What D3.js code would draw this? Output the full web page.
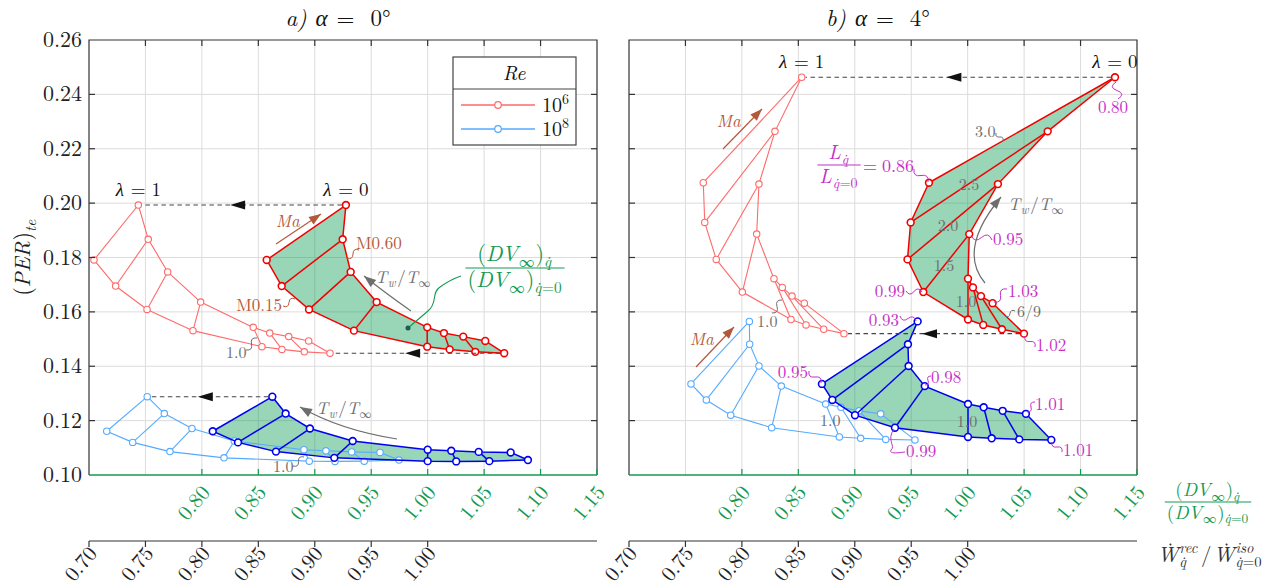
<!DOCTYPE html>
<html><head><meta charset="utf-8">
<script src="https://cdn.jsdelivr.net/npm/d3@7"></script>
<style>
body{margin:0;background:#fff;}
svg text{white-space:pre;}
</style></head><body>
<svg id="chart" width="1270" height="581"></svg>
<script>
// ---- axis ticks ----
const yTicks = [0.10,0.12,0.14,0.16,0.18,0.20,0.22,0.24,0.26];
const dvTicks = [0.80,0.85,0.90,0.95,1.00,1.05,1.10,1.15];
const wTicks = [0.70,0.75,0.80,0.85,0.90,0.95,1.00];
const gridX = [0.75,0.80,0.85,0.90,0.95,1.00,1.05,1.10];

// ---- mesh data: chains at Ma 0.60 (hi) and Ma 0.15 (lo), Tw/Tinf = 3.0 ... 6/9 ----
// panel a) alpha = 0 deg, Re = 1e6
const a_re6_per_hi  = [0.1993,0.1867,0.1747,0.1636,0.1543,0.1522,0.1509,0.1493];
const a_re6_per_lo  = [0.1791,0.1695,0.1609,0.1531,0.1472,0.1462,0.1453,0.1448];
const a_re6_lam1_hi = [0.7437,0.7525,0.7697,0.7989,0.8455,0.8601,0.8769,0.8946];
const a_re6_lam1_lo = [0.7044,0.7236,0.7514,0.7921,0.8532,0.8709,0.8907,0.9135];
const a_re6_lam0_hi = [0.9276,0.9247,0.9318,0.9548,0.9996,1.0144,1.0315,1.0510];
const a_re6_lam0_lo = [0.8574,0.8707,0.8949,0.9347,0.9996,1.0195,1.0422,1.0678];
// panel a) alpha = 0 deg, Re = 1e8
const a_re8_per_hi  = [0.1288,0.1226,0.1171,0.1125,0.1093,0.1089,0.1085,0.1083];
const a_re8_per_lo  = [0.1161,0.1120,0.1086,0.1063,0.1051,0.1050,0.1051,0.1055];
const a_re8_lam1_hi = [0.7516,0.7667,0.7912,0.8287,0.8904,0.9099,0.9327,0.9578];
const a_re8_lam1_lo = [0.7157,0.7387,0.7717,0.8196,0.8951,0.9179,0.9438,0.9746];
const a_re8_lam0_hi = [0.8624,0.8742,0.8957,0.9336,1.0000,1.0209,1.0452,1.0735];
const a_re8_lam0_lo = [0.8096,0.8320,0.8656,0.9173,1.0000,1.0253,1.0546,1.0888];
// panel b) alpha = 4 deg, Re = 1e6
const b_re6_per_hi  = [0.2463,0.2264,0.2070,0.1886,0.1722,0.1690,0.1658,0.1632];
const b_re6_per_lo  = [0.2075,0.1929,0.1793,0.1673,0.1572,0.1552,0.1536,0.1520];
const b_re6_lam1_hi = [0.8530,0.8293,0.8151,0.8131,0.8284,0.8358,0.8444,0.8553];
const b_re6_lam1_lo = [0.7658,0.7671,0.7773,0.8004,0.8435,0.8568,0.8725,0.8904];
const b_re6_lam0_hi = [1.1305,1.0709,1.0268,1.0014,1.0003,1.0047,1.0118,1.0221];
const b_re6_lam0_lo = [0.9657,0.9495,0.9467,0.9607,1.0003,1.0138,1.0304,1.0499];
// panel b) alpha = 4 deg, Re = 1e8
const b_re8_per_hi  = [0.1565,0.1481,0.1401,0.1327,0.1261,0.1249,0.1236,0.1225];
const b_re8_per_lo  = [0.1335,0.1276,0.1220,0.1174,0.1140,0.1135,0.1131,0.1129];
const b_re8_lam1_hi = [0.8066,0.8069,0.8151,0.8349,0.8742,0.8878,0.9037,0.9229];
const b_re8_lam1_lo = [0.7549,0.7685,0.7901,0.8264,0.8863,0.9052,0.9274,0.9533];
const b_re8_lam0_hi = [0.9557,0.9471,0.9477,0.9620,1.0003,1.0142,1.0310,1.0516];
const b_re8_lam0_lo = [0.8709,0.8801,0.9002,0.9356,1.0003,1.0213,1.0457,1.0741];

// ---- styles ----
const C = {
  re6l1:'#ff6a6a', re6l0:'#f20000', re8l1:'#55aaff', re8l0:'#0000f0',
  fill:'rgba(0,150,75,0.40)', green:'#139a52', mag:'#c630c6', brown:'#b4583a',
  gray:'#6e6e6e', grid:'#dcdcdc', dash:'#444'
};
const FS = 21;            // tick labels
const FA = 17;            // annotations
const FONT = 'Latin Modern Roman, Liberation Serif, serif';

const svg = d3.select('#chart');
const y = d3.scaleLinear().domain([0.10,0.26]).range([475,40]);
const yTop = 40, yBot = 475, wAxisY = 541;

const zip = (xs, ys) => xs.map((v,i)=>[v, ys[i]]);

const panels = [
  {x0:89, x1:597, title:'a)', alpha:'0', meshes:[
    {hi:zip(a_re8_lam1_hi,a_re8_per_hi), lo:zip(a_re8_lam1_lo,a_re8_per_lo), c:C.re8l1, lam:1},
    {hi:zip(a_re6_lam1_hi,a_re6_per_hi), lo:zip(a_re6_lam1_lo,a_re6_per_lo), c:C.re6l1, lam:1},
    {hi:zip(a_re8_lam0_hi,a_re8_per_hi), lo:zip(a_re8_lam0_lo,a_re8_per_lo), c:C.re8l0, lam:0},
    {hi:zip(a_re6_lam0_hi,a_re6_per_hi), lo:zip(a_re6_lam0_lo,a_re6_per_lo), c:C.re6l0, lam:0}
  ], arrows:[['re6','hi'],['re6','lo'],['re8','hi']]},
  {x0:629, x1:1137, title:'b)', alpha:'4', meshes:[
    {hi:zip(b_re8_lam1_hi,b_re8_per_hi), lo:zip(b_re8_lam1_lo,b_re8_per_lo), c:C.re8l1, lam:1},
    {hi:zip(b_re6_lam1_hi,b_re6_per_hi), lo:zip(b_re6_lam1_lo,b_re6_per_lo), c:C.re6l1, lam:1},
    {hi:zip(b_re8_lam0_hi,b_re8_per_hi), lo:zip(b_re8_lam0_lo,b_re8_per_lo), c:C.re8l0, lam:0},
    {hi:zip(b_re6_lam0_hi,b_re6_per_hi), lo:zip(b_re6_lam0_lo,b_re6_per_lo), c:C.re6l0, lam:0}
  ], arrows:[['re6','hi'],['re6','lo']]}
];

// ---- small math-text layout helpers ----
const I = t => ({t, i:true});
function txt(parent) {
  return parent.append('text').attr('font-family', FONT);
}
function mrow(parent, x, yy, items, size, color) {
  const g = parent.append('g');
  let cx = x;
  items.forEach(it => {
    if (typeof it === 'string') it = {t:it};
    if (it.sp) { cx += it.sp; return; }
    if (it.sub || it.sup) {
      let w = 0;
      if (it.sup) w = Math.max(w, mrow(g, cx, yy - size*0.42, it.sup, size*0.7, color).w);
      if (it.sub) w = Math.max(w, mrow(g, cx, yy + size*0.25, it.sub, size*0.7, color).w);
      cx += w + 1;
    } else {
      const t = txt(g).attr('x', cx).attr('y', yy).attr('font-size', size)
        .attr('fill', color).style('font-style', it.i ? 'italic' : 'normal').text(it.t);
      const w = t.node().getComputedTextLength();
      if (it.dot) g.append('circle').attr('cx', cx + w*0.62).attr('cy', yy - size*0.83)
        .attr('r', size*0.05).attr('fill', color);
      cx += w + (it.i ? size*0.04 : 0);
    }
  });
  return {g, w: cx - x};
}
function mrowC(parent, cx, yy, items, size, color) {
  const r = mrow(parent, 0, yy, items, size, color);
  r.g.attr('transform', `translate(${cx - r.w/2},0)`);
  return r;
}
function mrowR(parent, rx, yy, items, size, color) {
  const r = mrow(parent, 0, yy, items, size, color);
  r.g.attr('transform', `translate(${rx - r.w},0)`);
  return r;
}
function mfrac(parent, cx, barY, num, den, size, color) {
  const g = parent.append('g');
  const n = mrow(g, 0, barY - size*0.3, num, size, color);
  const d = mrow(g, 0, barY + size*0.88, den, size, color);
  const w = Math.max(n.w, d.w) + 4;
  n.g.attr('transform', `translate(${cx - n.w/2},0)`);
  d.g.attr('transform', `translate(${cx - d.w/2},0)`);
  g.append('line').attr('x1', cx - w/2).attr('x2', cx + w/2).attr('y1', barY).attr('y2', barY)
    .attr('stroke', color).attr('stroke-width', 1.2);
  return {g, w};
}
function squiggle(g, x0, y0, x1, y1, color, amp = 0.35) {
  const mx = (x0+x1)/2, my = (y0+y1)/2, dx = x1-x0, dy = y1-y0, L = Math.hypot(dx,dy);
  const nx = -dy/L, ny = dx/L, a = L*amp;
  g.append('path').attr('d', `M${x0},${y0} Q${(x0+mx)/2+nx*a},${(y0+my)/2+ny*a} ${mx},${my} T${x1},${y1}`)
    .attr('fill','none').attr('stroke', color).attr('stroke-width', 1);
}
function head(g, x, yy, ang, color, len = 12, wid = 4.5) {
  const c = Math.cos(ang), s = Math.sin(ang);
  const bx = x - c*len, by = yy - s*len;
  g.append('path').attr('d', `M${x},${yy} L${bx - s*wid},${by + c*wid} L${bx + s*wid},${by - c*wid} Z`)
    .attr('fill', color);
}
function straightArrow(g, x0, y0, x1, y1, color) {
  g.append('line').attr('x1',x0).attr('y1',y0).attr('x2',x1).attr('y2',y1)
    .attr('stroke',color).attr('stroke-width',1.2);
  head(g, x1, y1, Math.atan2(y1-y0, x1-x0), color, 12, 4.5);
}
function curvedArrow(g, x0, y0, cx, cy, x1, y1, color) {
  g.append('path').attr('d', `M${x0},${y0} Q${cx},${cy} ${x1},${y1}`)
    .attr('fill','none').attr('stroke',color).attr('stroke-width',1.2);
  head(g, x1, y1, Math.atan2(y1-cy, x1-cx), color, 12, 4.5);
}

const TwT = [I('T'), {sub:[I('w')]}, '/', I('T'), {sub:['∞']}];
const qd = 'q\u0307';
const lam = v => [I('λ'), {sp:6}, '=', {sp:6}, v];

// ---- panels ----
panels.forEach(p => {
  const x = d3.scaleLinear().domain([0.70,1.15]).range([p.x0, p.x1]);
  p.x = x;
  const g = svg.append('g');

  // grid
  g.selectAll('.gx').data(gridX).join('line')
    .attr('x1', d=>x(d)).attr('x2', d=>x(d)).attr('y1', yTop).attr('y2', yBot)
    .attr('stroke', C.grid).attr('stroke-width', 1);
  g.selectAll('.gy').data(yTicks.slice(1,-1)).join('line')
    .attr('x1', p.x0).attr('x2', p.x1).attr('y1', d=>y(d)).attr('y2', d=>y(d))
    .attr('stroke', C.grid).attr('stroke-width', 1);

  // shaded region of the lambda = 0 meshes
  p.meshes.filter(m => m.lam === 0).forEach(m => {
    const poly = m.hi.concat(m.lo.slice().reverse());
    g.append('path').attr('d', d3.line().x(d=>x(d[0])).y(d=>y(d[1]))(poly) + 'Z')
      .attr('fill', C.fill).attr('stroke', 'none');
  });

  const line = d3.line().x(d=>x(d[0])).y(d=>y(d[1]));
  p.meshes.forEach(m => {
    const sw = m.lam === 0 ? 1.5 : 1.1;
    const mg = g.append('g');
    [m.hi, m.lo].forEach(ch => mg.append('path').attr('d', line(ch))
      .attr('fill','none').attr('stroke', m.c).attr('stroke-width', sw));
    mg.selectAll('.cross').data(d3.range(m.hi.length)).join('line')
      .attr('x1', i=>x(m.hi[i][0])).attr('y1', i=>y(m.hi[i][1]))
      .attr('x2', i=>x(m.lo[i][0])).attr('y2', i=>y(m.lo[i][1]))
      .attr('stroke', m.c).attr('stroke-width', sw);
    mg.selectAll('circle').data(m.hi.concat(m.lo)).join('circle')
      .attr('cx', d=>x(d[0])).attr('cy', d=>y(d[1])).attr('r', m.lam === 0 ? 3.4 : 3.2)
      .attr('fill', '#fff').attr('stroke', m.c).attr('stroke-width', m.lam === 0 ? 1.6 : 1.1);
  });

  // dashed lambda 0 -> 1 arrows
  const byRe = {re6:[p.meshes[3], p.meshes[1]], re8:[p.meshes[2], p.meshes[0]]};
  p.arrows.forEach(([re, side]) => {
    const [m0, m1] = byRe[re];
    const pt0 = side === 'hi' ? m0.hi[0] : m0.lo[m0.lo.length-1];
    const pt1 = side === 'hi' ? m1.hi[0] : m1.lo[m1.lo.length-1];
    const xa = x(pt0[0]) - 4, xb = x(pt1[0]) + 4, yy = y(pt0[1]);
    g.append('line').attr('x1', xa).attr('x2', xb).attr('y1', yy).attr('y2', yy)
      .attr('stroke', C.dash).attr('stroke-width', 1.1).attr('stroke-dasharray', '4.5,3.5');
    const tip = (xa + xb)/2 - 12;
    g.append('path').attr('d', `M${tip},${yy} L${tip+15},${yy-4.5} L${tip+15},${yy+4.5} Z`).attr('fill', '#111');
  });

  // frame
  const ax = svg.append('g').attr('stroke-width', 1.2);
  ax.append('path').attr('d', `M${p.x0},${yBot} V${yTop} H${p.x1} V${yBot}`)
    .attr('fill','none').attr('stroke','#333');
  ax.append('line').attr('x1', p.x0).attr('x2', p.x1).attr('y1', yBot).attr('y2', yBot)
    .attr('stroke', C.green).attr('stroke-width', 1.4);
  // inward ticks
  yTicks.slice(1,-1).forEach(v => {
    ax.append('line').attr('x1', p.x0).attr('x2', p.x0+6).attr('y1', y(v)).attr('y2', y(v)).attr('stroke','#333');
    ax.append('line').attr('x1', p.x1).attr('x2', p.x1-6).attr('y1', y(v)).attr('y2', y(v)).attr('stroke','#333');
  });
  gridX.forEach(v => ax.append('line').attr('x1', x(v)).attr('x2', x(v)).attr('y1', yTop).attr('y2', yTop+6).attr('stroke','#333'));
  dvTicks.forEach(v => ax.append('line').attr('x1', x(v)).attr('x2', x(v)).attr('y1', yBot).attr('y2', yBot-6).attr('stroke', C.green));

  // green DV axis labels
  dvTicks.forEach(v => {
    const tx = x(v) + 9, ty = yBot + 18;
    txt(ax).attr('x', tx).attr('y', ty).attr('transform', `rotate(-50,${tx},${ty})`)
      .attr('text-anchor','end').attr('font-size', FS).attr('fill', C.green).text(v.toFixed(2));
  });
  // black W axis
  ax.append('line').attr('x1', p.x0).attr('x2', p.x1).attr('y1', wAxisY).attr('y2', wAxisY).attr('stroke','#333');
  wTicks.forEach(v => {
    ax.append('line').attr('x1', x(v)).attr('x2', x(v)).attr('y1', wAxisY).attr('y2', wAxisY+6).attr('stroke','#333');
    const tx = x(v) + 9, ty = wAxisY + 13;
    txt(ax).attr('x', tx).attr('y', ty).attr('transform', `rotate(-50,${tx},${ty})`)
      .attr('text-anchor','end').attr('font-size', FS).attr('fill', '#222').text(v.toFixed(2));
  });

  // title
  mrowC(svg, (p.x0+p.x1)/2 - 5, 26, [I(p.title), {sp:8}, I('α'), {sp:8}, '=', {sp:16}, p.alpha + '°'], 23, '#111');
});

// y axis labels (left panel)
const L = panels[0];
yTicks.forEach(v => txt(svg).attr('x', L.x0 - 7).attr('y', y(v) + 7)
  .attr('text-anchor','end').attr('font-size', FS + 1).attr('fill','#222').text(v.toFixed(2)));
{
  const gl = svg.append('g').attr('transform', 'translate(30,257) rotate(-90)');
  mrowC(gl, 0, 0, ['(', I('PER'), ')', {sub:[I('te')]}], 22, '#222');
}

// ---- annotations, panel a ----
const A = svg.append('g');
{
  const x = L.x;
  const t1 = [a_re6_lam1_hi[0], a_re6_per_hi[0]], t0 = [a_re6_lam0_hi[0], a_re6_per_hi[0]];
  mrowC(A, x(t1[0]), y(t1[1]) - 9, lam('1'), 19, '#111');
  mrowC(A, x(t0[0]), y(t0[1]) - 9, lam('0'), 19, '#111');
  straightArrow(A, 276, 244, 321, 214, C.brown);
  mrowC(A, 288, 227, [I('Ma')], FA, C.brown);
  mrow(A, 356, 249, ['M0.60'], FA, C.brown);
  squiggle(A, 359, 250, 347, 258, C.brown);
  mrowR(A, 282, 311, ['M0.15'], FA, C.brown);
  squiggle(A, 283, 306, 295, 299, C.brown);
  curvedArrow(A, 411, 311, 384, 292, 364, 276, C.gray);
  mrow(A, 375, 283, TwT, FA, C.gray);
  // DV annotation
  A.append('path').attr('d', 'M408,328 L428,311 C438,303 431,293 440,287 C447,282 452,279 461,276')
    .attr('fill','none').attr('stroke', C.green).attr('stroke-width', 1.1);
  A.append('circle').attr('cx', 408).attr('cy', 328).attr('r', 2.5).attr('fill', '#1d5e4c');
  mfrac(A, 515, 268, ['(', I('DV'), {sub:['∞']}, ')', {sub:[I(qd)]}],
        ['(', I('DV'), {sub:['∞']}, ')', {sub:[I(qd), '=0']}], 22, C.green);
  mrow(A, 226, 358, ['1.0'], 16, C.gray);
  squiggle(A, 246, 350, 257, 338, C.gray);
  // Re = 1e8
  curvedArrow(A, 397, 439, 340, 430, 300, 407, C.gray);
  mrow(A, 316, 414, TwT, FA, C.gray);
  mrow(A, 273, 472, ['1.0'], 16, C.gray);
  squiggle(A, 293, 466, 304, 457, C.gray);
  // legend
  const lg = svg.append('g');
  lg.append('rect').attr('x', 453).attr('y', 57).attr('width', 123).attr('height', 88)
    .attr('fill', '#fff').attr('stroke', '#444').attr('stroke-width', 1.2);
  lg.append('line').attr('x1', 453).attr('x2', 576).attr('y1', 89).attr('y2', 89).attr('stroke', '#444').attr('stroke-width', 1.2);
  mrowC(lg, 514.5, 80, [I('Re')], 20, '#111');
  [[105, C.re6l1, '6'], [129, C.re8l1, '8']].forEach(([yy, c, e]) => {
    lg.append('line').attr('x1', 461).attr('x2', 535).attr('y1', yy).attr('y2', yy).attr('stroke', c).attr('stroke-width', 1.3);
    lg.append('circle').attr('cx', 498).attr('cy', yy).attr('r', 3.3).attr('fill', '#fff').attr('stroke', c).attr('stroke-width', 1.2);
    mrow(lg, 542, yy + 7, ['10', {sup:[e]}], 20, '#111');
  });
}

// ---- annotations, panel b ----
const B = svg.append('g');
{
  const x = panels[1].x;
  const t1 = [b_re6_lam1_hi[0], b_re6_per_hi[0]], t0 = [b_re6_lam0_hi[0], b_re6_per_hi[0]];
  mrowC(B, x(t1[0]), y(t1[1]) - 9, lam('1'), 19, '#111');
  mrowC(B, x(t0[0]), y(t0[1]) - 9, lam('0'), 19, '#111');
  straightArrow(B, 723, 149, 762, 109, C.brown);
  mrowC(B, 729, 127, [I('Ma')], FA, C.brown);
  straightArrow(B, 696, 367, 734, 327, C.brown);
  mrowC(B, 702, 345, [I('Ma')], FA, C.brown);
  // L ratio
  mfrac(B, 839, 165, [I('L'), {sub:[I(qd)]}], [I('L'), {sub:[I(qd), '=0']}], 20, C.mag);
  mrow(B, 863, 172, ['=', {sp:5}, '0.86'], FA + 1, C.mag);
  squiggle(B, 914, 169, 928, 182, C.mag);
  mrowC(B, 1113, 113, ['0.80'], FA, C.mag);
  squiggle(B, 1116, 82, 1118, 99, C.mag, 0.5);
  mrow(B, 975, 137, ['3.0'], 16, C.gray);
  squiggle(B, 996, 133, 1003, 141, C.gray);
  mrowC(B, 969, 190, ['2.5'], 16, C.gray);
  mrowC(B, 948, 231, ['2.0'], 16, C.gray);
  mrowC(B, 944, 271, ['1.5'], 16, C.gray);
  mrowC(B, 966, 307, ['1.0'], 16, C.gray);
  mrow(B, 1017, 317, ['6/9'], 16, C.gray);
  squiggle(B, 1015, 311, 1005, 316, C.gray);
  curvedArrow(B, 985, 283, 957, 250, 1001, 197, C.gray);
  mrow(B, 1008, 210, TwT, FA, C.gray);
  mrow(B, 993, 245, ['0.95'], FA, C.mag);
  squiggle(B, 971, 235, 992, 240, C.mag);
  mrowR(B, 905, 297, ['0.99'], FA, C.mag);
  squiggle(B, 906, 291, 922, 292, C.mag);
  mrow(B, 1008, 297, ['1.03'], FA, C.mag);
  squiggle(B, 994, 302, 1007, 289, C.mag);
  mrow(B, 1036, 351, ['1.02'], FA, C.mag);
  squiggle(B, 1025, 336, 1035, 347, C.mag);
  mrow(B, 757, 327, ['1.0'], 16, C.gray);
  squiggle(B, 772, 313, 782, 300, C.gray);
  // Re = 1e8
  mrowR(B, 899, 326, ['0.93'], FA, C.mag);
  squiggle(B, 900, 316, 916, 321, C.mag);
  mrowR(B, 808, 378, ['0.95'], FA, C.mag);
  squiggle(B, 809, 371, 821, 383, C.mag);
  mrow(B, 820, 426, ['1.0'], 16, C.gray);
  mrow(B, 931, 383, ['0.98'], FA, C.mag);
  squiggle(B, 925, 385, 931, 376, C.mag);
  mrow(B, 906, 457, ['0.99'], FA, C.mag);
  B.append('path').attr('d', 'M894,429 C886,440 896,446 891,450 C889,454 897,453 905,452')
    .attr('fill','none').attr('stroke', C.mag).attr('stroke-width', 1);
  mrowC(B, 967, 427, ['1.0'], 16, C.gray);
  mrow(B, 1035, 410, ['1.01'], FA, C.mag);
  squiggle(B, 1027, 412, 1035, 402, C.mag);
  mrow(B, 1063, 456, ['1.01'], FA, C.mag);
  squiggle(B, 1052, 442, 1062, 452, C.mag);
}

// ---- outer axis titles ----
mfrac(svg, 1208, 502, ['(', I('DV'), {sub:['∞']}, ')', {sub:[I(qd)]}],
      ['(', I('DV'), {sub:['∞']}, ')', {sub:[I(qd), '=0']}], 19, C.green);
mrowC(svg, 1210, 562, [{t:'W', i:true, dot:true}, {sup:[I('rec')], sub:[I(qd)]}, {sp:2}, '/', {sp:2},
  {t:'W', i:true, dot:true}, {sup:[I('iso')], sub:[I(qd), '=0']}], 21, '#333');
</script></body></html>
